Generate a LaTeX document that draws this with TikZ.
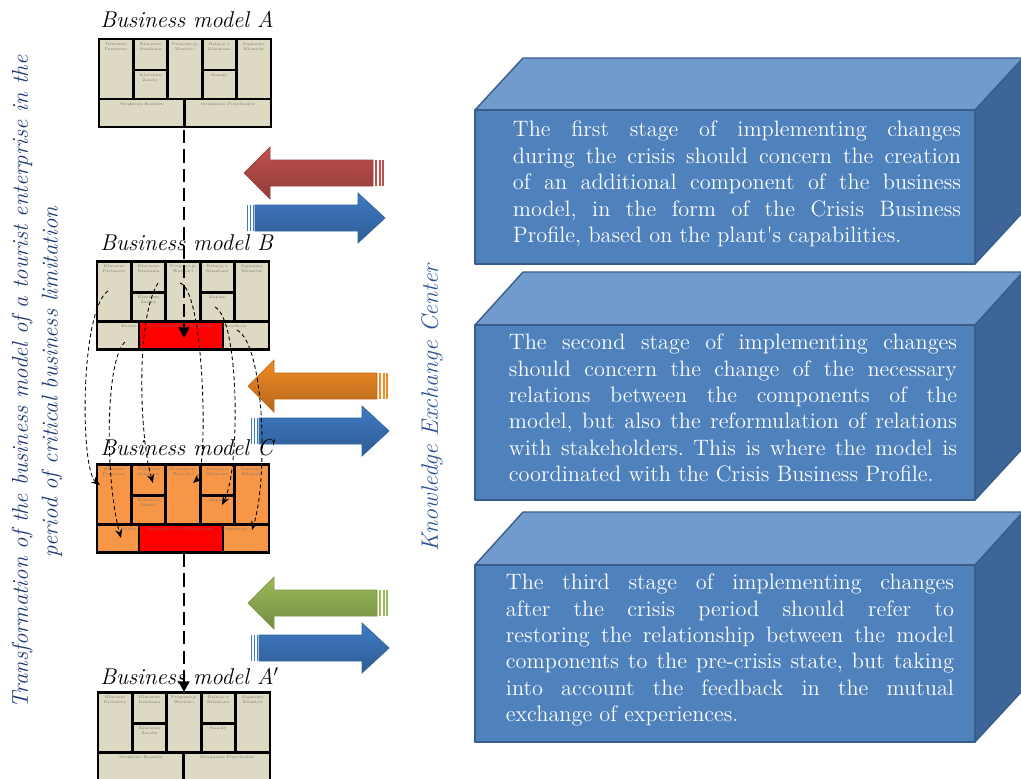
\documentclass[tikz,border=0pt]{standalone}
\usepackage{tikz}
\usetikzlibrary{arrows.meta}
\frenchspacing

\definecolor{bmbeige}{HTML}{DDD9C3}
\definecolor{bmorange}{HTML}{F79646}
\definecolor{bmred}{HTML}{FF0000}
\definecolor{boxfront}{HTML}{4F81BD}
\definecolor{boxtop}{HTML}{729BCD}
\definecolor{boxside}{HTML}{3E6597}
\definecolor{boxedge}{HTML}{385D8A}
\definecolor{arrred}{HTML}{C0504D}
\definecolor{arrblue}{HTML}{3F7BC4}
\definecolor{arrorange}{HTML}{F08A24}
\definecolor{arrgreen}{HTML}{9BBB59}
\definecolor{titleblue}{HTML}{203A72}
\definecolor{kecblue}{HTML}{2E5496}

\tikzset{
  cellline/.style={line width=1.7pt, draw=black},
  celltext/.style={font=\fontsize{2.2}{2.6}\selectfont, text=black!55, align=center, inner sep=0.5pt, anchor=north},
  modellabel/.style={font=\fontsize{13}{15}\selectfont\itshape, anchor=west, inner sep=0pt},
  stagetext/.style={text=white, text width=255pt, align=justify, font=\fontsize{12.7}{15}\selectfont, inner sep=0pt},
  flowline/.style={line width=1.7pt, dash pattern=on 7.5pt off 3.5pt, -{Triangle[length=6pt,width=6pt]}},
  linkline/.style={line width=0.5pt, dash pattern=on 2.2pt off 1.6pt, -{Stealth[length=5pt,width=4pt]}},
  facefill/.style={fill=#1, draw=boxedge, line width=0.8pt, line join=round},
}

\newcommand{\bmcanvas}[4]{%
  \begin{scope}[shift={(#1,#2)}]
    \fill[#3] (0,0) rectangle (172,88);
    \node[celltext] at (17.2,3) {Kluczowi\\Partnerzy};
    \node[celltext] at (51.6,3) {Kluczowe\\Działania};
    \node[celltext] at (51.6,34) {Kluczowe\\Zasoby};
    \node[celltext] at (86,3) {Propozycja\\Wartości};
    \node[celltext] at (120.4,3) {Relacje z\\Klientami};
    \node[celltext] at (120.4,34) {Kanały};
    \node[celltext] at (154.8,3) {Segmenty\\Klientów};
    \ifnum#4=1
      \filldraw[fill=bmred, cellline] (42,60) rectangle (126,88);
      \node[celltext] at (32,63) {Koszty};
      \node[celltext] at (84,63) {Kryzysowy Profil Biznesowy};
      \node[celltext] at (138,63) {Przychody};
    \else
      \draw[cellline] (85.5,60) -- (85.5,88);
      \node[celltext] at (43,63) {Struktura Kosztów};
      \node[celltext] at (129,63) {Strumienie Przychodów};
    \fi
    \draw[cellline] (0,60) -- (172,60);
    \foreach \cx in {34.4,68.8,103.2,137.6}
      \draw[cellline] (\cx,0) -- (\cx,60);
    \draw[cellline] (34.4,31) -- (68.8,31) (103.2,31) -- (137.6,31);
    \draw[cellline] (0,0) rectangle (172,88);
  \end{scope}}

\newcommand{\stagebox}[3]{%
  \filldraw[facefill=boxside] (975,#2) -- (1023,#1) -- (1023,#3-52) -- (975,#3) -- cycle;
  \filldraw[facefill=boxtop] (475,#2) -- (523,#1) -- (1023,#1) -- (975,#2) -- cycle;
  \filldraw[facefill=boxfront] (475,#2) rectangle (975,#3);}

\newcommand{\kecleft}[3]{%
  \begin{scope}[shift={(#1,#2)}]
    \shadedraw[top color=#3, middle color=#3!70!white, bottom color=#3!75!black, draw=#3!80!black, line width=0.4pt]
      (244,0) -- (270,-26) -- (270,-13) -- (373,-13) -- (373,13) -- (270,13) -- (270,26) -- cycle;
    \foreach \sx in {375,378.5,382}
      \fill[#3] (\sx,-13) rectangle +(2,26);
  \end{scope}}

\newcommand{\kecright}[3]{%
  \begin{scope}[shift={(#1,#2)}]
    \shadedraw[top color=#3, middle color=#3!70!white, bottom color=#3!75!black, draw=#3!80!black, line width=0.4pt]
      (255,-13) -- (358,-13) -- (358,-25) -- (385,0) -- (358,25) -- (358,13) -- (255,13) -- cycle;
    \foreach \sx in {246.5,249.5,252.5}
      \fill[#3] (\sx,-13) rectangle +(1.6,26);
  \end{scope}}

\begin{document}
\begin{tikzpicture}[x=0.02cm, y=-0.02cm]
\useasboundingbox (0,0) rectangle (1021,778);

\stagebox{58}{110}{264}
\stagebox{272}{325}{500}
\stagebox{512}{565}{742}

\node[stagetext] (stage1) at (737,184) {The first stage of implementing changes\linebreak
  during the crisis should concern the creation\linebreak
  of an additional component of the business\linebreak
  model, in the form of the Crisis Business\linebreak
  Profile, based on the plant\textquotesingle s capabilities.};
\node[stagetext] (stage2) at (733,408) {The second stage of implementing changes\linebreak
  should concern the change of the necessary\linebreak
  relations between the components of the\linebreak
  model, but also the reformulation of relations\linebreak
  with stakeholders. This is where the model is\linebreak
  coordinated with the Crisis Business Profile.};
\node[stagetext] (stage3) at (730,650) {The third stage of implementing changes\linebreak
  after the crisis period should refer to\linebreak
  restoring the relationship between the model\linebreak
  components to the pre-crisis state, but taking\linebreak
  into account the feedback in the mutual\linebreak
  exchange of experiences.};

\foreach \dx/\yl/\yr/\c in {0/173/218/arrred, 4/386/431/arrorange, 4/603/648/arrgreen}{
  \kecleft{\dx}{\yl}{\c}
  \kecright{\dx}{\yr}{arrblue}
}

\node[rotate=90, text=kecblue, font=\fontsize{13.5}{16}\selectfont\itshape] (kec) at (432,408) {Knowledge Exchange Center};
\node[rotate=90, text=titleblue, align=center, font=\fontsize{13}{17}\selectfont\itshape] (title) at (37,382)
  {Transformation of the business model of a tourist enterprise in the\\period of critical business limitation};

\node[modellabel] (labA) at (100,19) {Business model A};
\node[modellabel] (labB) at (100,243) {Business model B};
\node[modellabel] (labC) at (100,448) {Business model C};
\node[modellabel] (labA2) at (100,676) {Business model A$'$};

\bmcanvas{99}{39}{bmbeige}{0}
\bmcanvas{97}{261}{bmbeige}{1}
\bmcanvas{97}{464}{bmorange}{1}
\bmcanvas{98}{692}{bmbeige}{0}

\coordinate (Aout) at (184,130);
\coordinate (Bin) at (184,338);
\coordinate (Cout) at (184,554);
\coordinate (A2in) at (184,692);
\draw[flowline] (Aout) -- (Bin);
\draw[flowline] (Cout) -- (A2in);

\coordinate (bKP) at (108,291);
\coordinate (cKP) at (100,485);
\coordinate (bKA) at (158,283);
\coordinate (cKA) at (153,483);
\coordinate (bVP) at (180,283);
\coordinate (cVP) at (193,483);
\coordinate (bCR) at (215,307);
\coordinate (cCR) at (222,505);
\coordinate (bRS) at (237,330);
\coordinate (cRS) at (252,530);
\coordinate (bCS) at (125,342);
\coordinate (cCS) at (121,538);
\draw[linkline] (bKP) .. controls (80,310) and (80,470) .. (cKP);
\draw[linkline] (bKA) .. controls (135,320) and (140,440) .. (cKA);
\draw[linkline] (bVP) .. controls (205,290) and (208,470) .. (cVP);
\draw[linkline] (bCR) .. controls (240,320) and (240,470) .. (cCR);
\draw[linkline] (bRS) .. controls (265,345) and (268,480) .. (cRS);
\draw[linkline] (bCS) .. controls (105,360) and (105,480) .. (cCS);
\end{tikzpicture}
\end{document}
